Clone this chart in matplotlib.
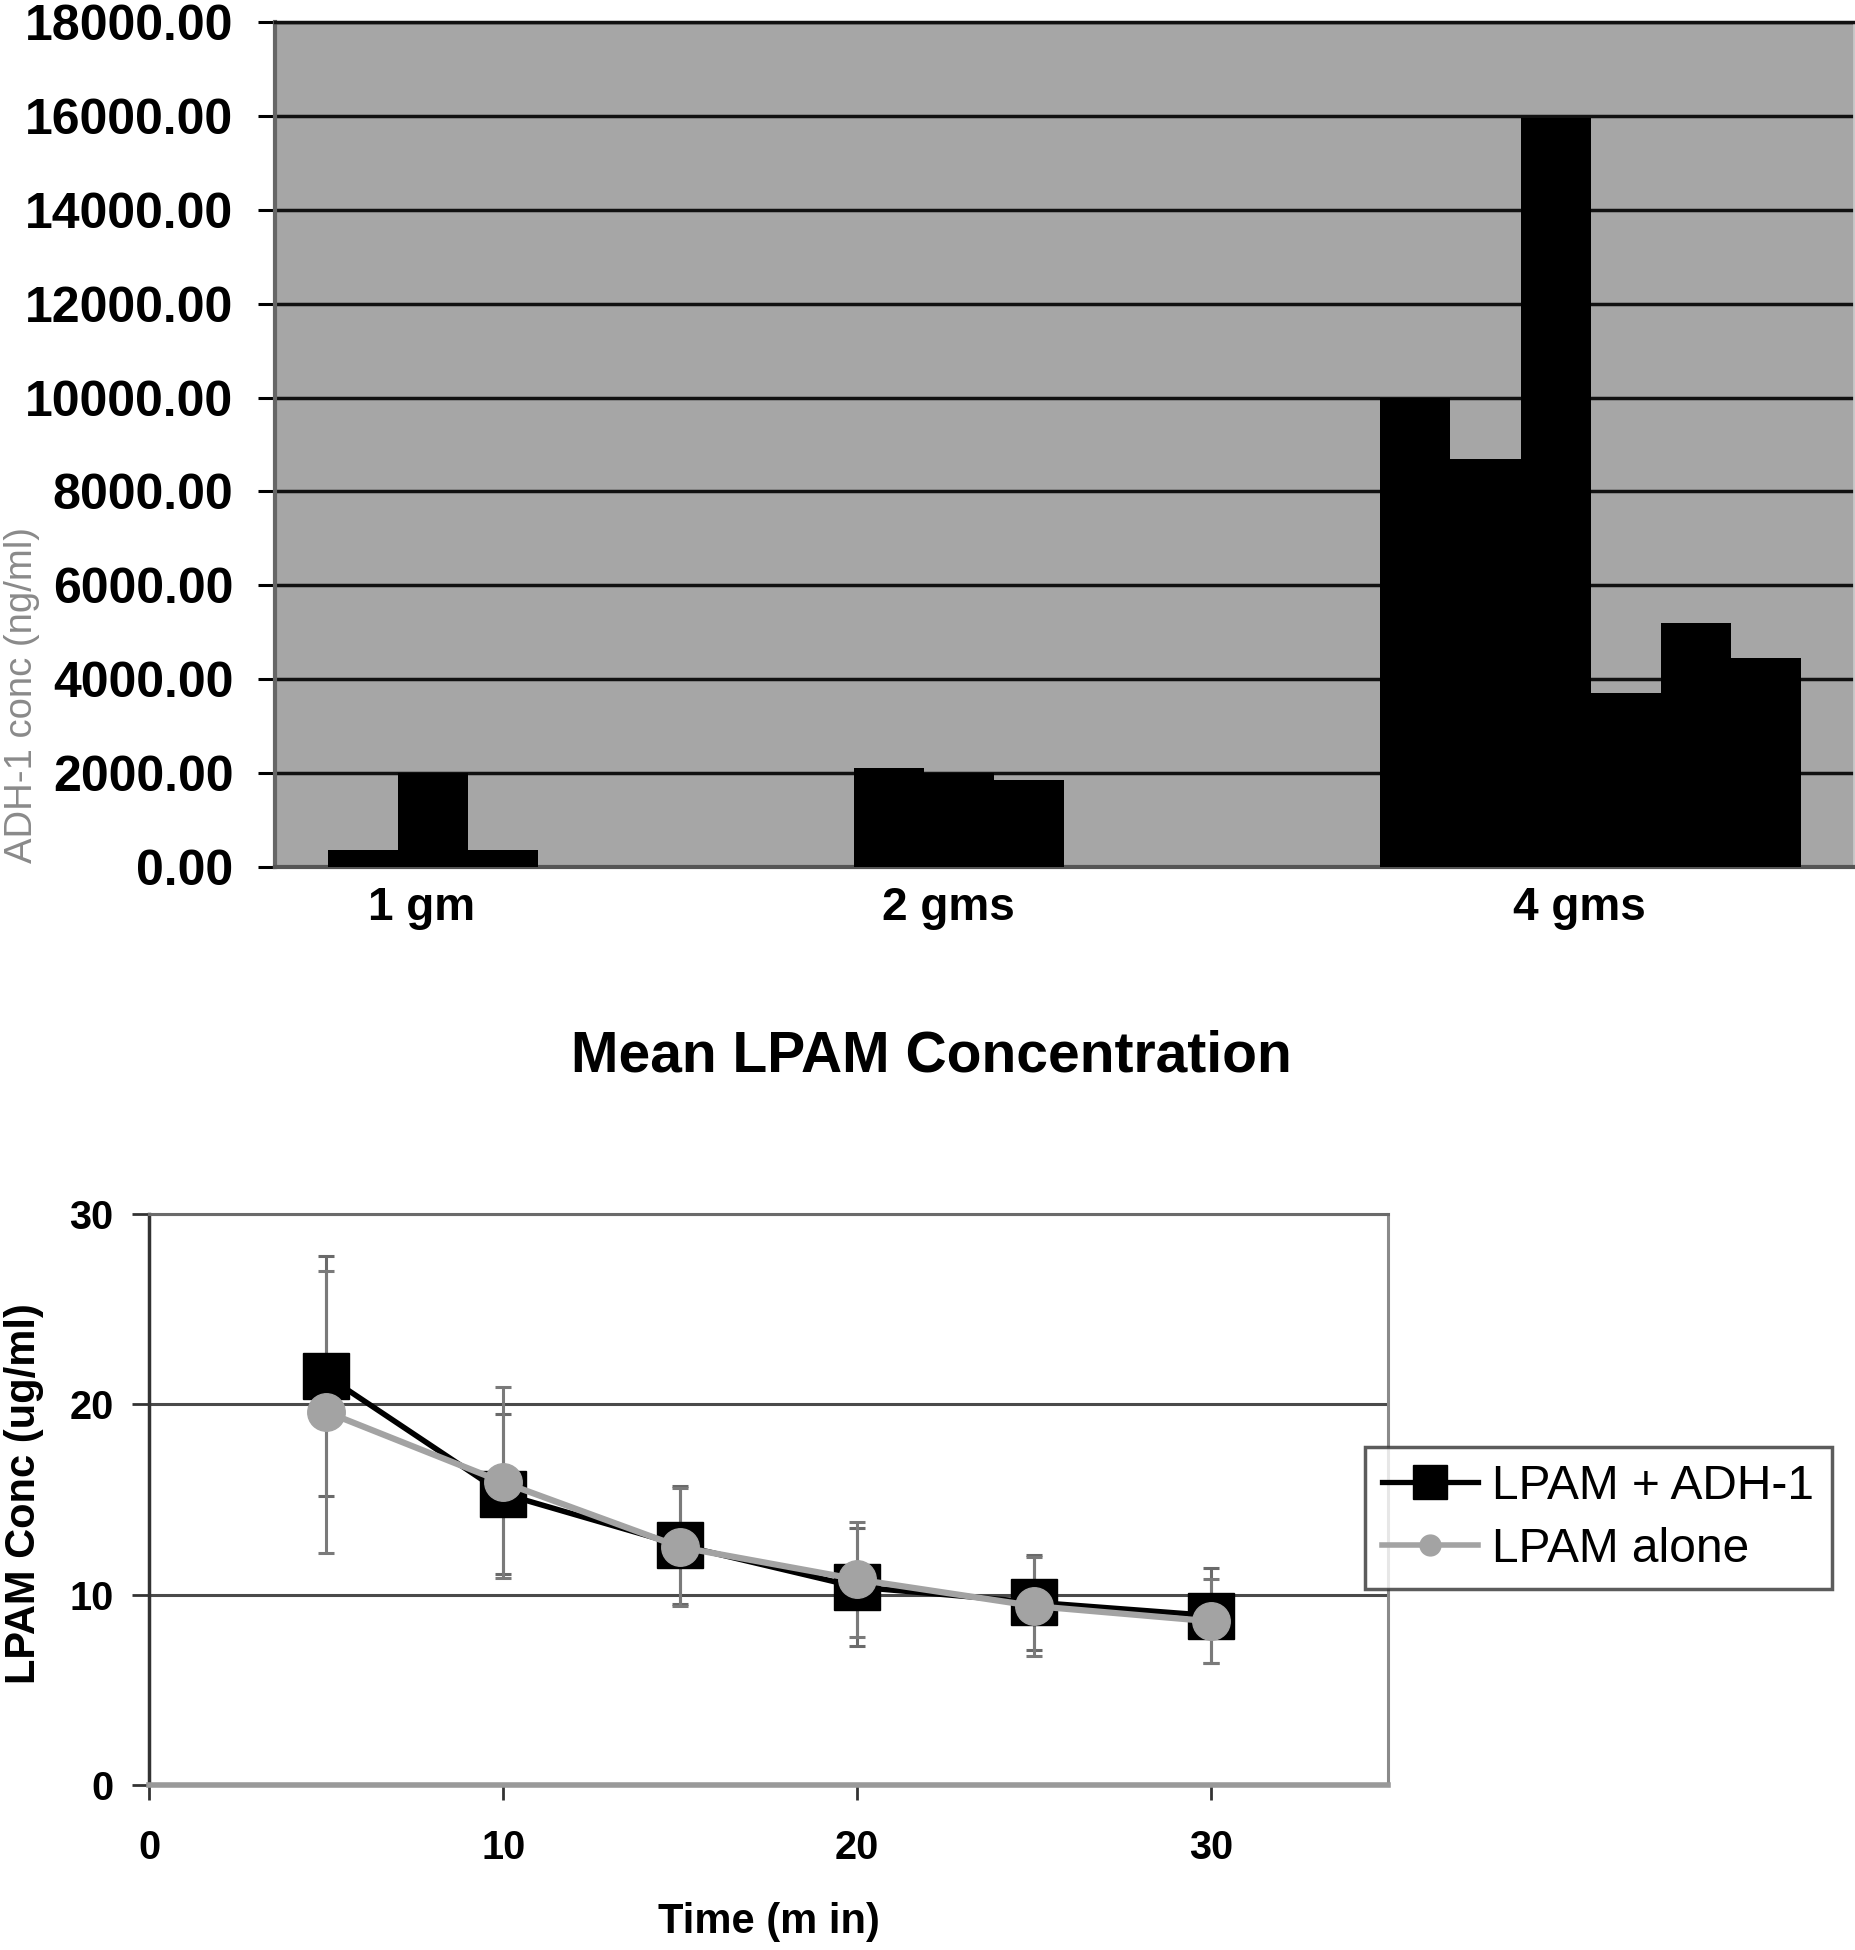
import matplotlib
matplotlib.use("Agg")
import matplotlib.pyplot as plt
from matplotlib.lines import Line2D
import matplotlib.transforms as mtransforms
import numpy as np

plt.rcParams['font.family'] = ['Liberation Sans', 'DejaVu Sans']

# ---------------- data: top bar chart ----------------
dose_labels = ["1 gm", "2 gms", "4 gms"]
adh_1gm = [370, 2000, 370]
adh_2gms = [2100, 2000, 1850]
adh_4gms = [10000, 8700, 15950, 3700, 5200, 4450]
adh_yticks = [0, 2000, 4000, 6000, 8000, 10000, 12000, 14000, 16000, 18000]

# ---------------- data: bottom line chart ----------------
time_min = [5, 10, 15, 20, 25, 30]
lpam_adh_mean = [21.5, 15.3, 12.6, 10.4, 9.6, 8.9]
lpam_adh_err = [6.3, 4.2, 3.1, 3.1, 2.5, 2.5]
lpam_alone_mean = [19.6, 15.9, 12.5, 10.8, 9.4, 8.6]
lpam_alone_err = [7.4, 5.0, 3.1, 3.0, 2.6, 2.2]
series_names = ["LPAM + ADH-1", "LPAM alone"]
x_ticks = [0, 10, 20, 30]
y_ticks = [0, 10, 20, 30]

W, H = 1856, 1950
fig = plt.figure(figsize=(W / 100, H / 100), dpi=100)

# ================= top chart =================
ax1 = fig.add_axes([275 / W, 1 - 867 / H, (1854 - 275) / W, (867 - 22) / H])
ax1.set_facecolor('#a6a6a6')
groups = [adh_1gm, adh_2gms, adh_4gms]
nslots = 6
bw = 1 / (nslots + 1.5)
tick_pos = []
for c, vals in enumerate(groups):
    xs = [c + (i - (nslots - 1) / 2) * bw for i in range(len(vals))]
    ax1.bar(xs, vals, width=bw, color='black', edgecolor='none', zorder=3)
    tick_pos.append(np.mean(xs))
ax1.set_xlim(-0.5, len(groups) - 0.5)
ax1.set_ylim(0, 18000)
ax1.set_yticks(adh_yticks)
ax1.set_yticklabels([f"{v:.2f}" for v in adh_yticks])
ax1.set_xticks(tick_pos)
ax1.set_xticklabels(dose_labels)
ax1.grid(axis='y', color='#111111', linewidth=2.5, zorder=1)
ax1.set_axisbelow(True)
ax1.tick_params(axis='y', length=12, width=2.2, pad=18, labelsize=36, direction='out', color='black')
ax1.tick_params(axis='x', length=0, pad=14, labelsize=33)
for lab in ax1.get_yticklabels() + ax1.get_xticklabels():
    lab.set_fontweight('bold')
shift = mtransforms.ScaledTranslation(-0.11, 0, fig.dpi_scale_trans)
for lab in ax1.get_xticklabels():
    lab.set_transform(lab.get_transform() + shift)
ax1.spines['top'].set_color('#111111')
ax1.spines['top'].set_linewidth(2.5)
ax1.spines['right'].set_color('#c8c8c8')
ax1.spines['right'].set_linewidth(2)
ax1.spines['left'].set_color('#666666')
ax1.spines['left'].set_linewidth(3)
ax1.spines['bottom'].set_color('#555555')
ax1.spines['bottom'].set_linewidth(3)
ax1.set_ylabel("ADH-1 conc (ng/ml)", fontsize=27.5, color='#8a8a8a')
ax1.yaxis.set_label_coords(-0.1488, 0.204)

# title between charts
fig.text(931 / W, 1 - 1057 / H, "Mean LPAM Concentration", fontsize=41,
         fontweight='bold', ha='center', va='center')

# ================= bottom chart =================
ax2 = fig.add_axes([149.5 / W, 1 - 1785 / H, (1388 - 149.5) / W, (1785 - 1214) / H])
ax2.set_facecolor('white')
ax2.errorbar(time_min, lpam_adh_mean, yerr=lpam_adh_err, fmt='none',
             ecolor='#6a6a6a', elinewidth=2.2, capsize=6, capthick=2.2, zorder=3)
ax2.errorbar(time_min, lpam_alone_mean, yerr=lpam_alone_err, fmt='none',
             ecolor='#7a7a7a', elinewidth=2.2, capsize=6, capthick=2.2, zorder=3)
ax2.plot(time_min, lpam_adh_mean, color='black', linewidth=4, marker='s',
         markersize=33, markerfacecolor='black', markeredgecolor='black', zorder=4)
ax2.plot(time_min, lpam_alone_mean, color='#a3a3a3', linewidth=4.5, marker='o',
         markersize=27, markerfacecolor='#a3a3a3', markeredgecolor='#a3a3a3', zorder=5)
ax2.set_xlim(0, 35)
ax2.set_ylim(0, 30)
ax2.set_xticks(x_ticks)
ax2.set_yticks(y_ticks)
ax2.grid(axis='y', color='#4a4a4a', linewidth=2.2, zorder=1)
ax2.set_axisbelow(True)
ax2.tick_params(axis='y', length=12, width=2, pad=14, labelsize=28.5, color='#333333')
ax2.tick_params(axis='x', length=11, width=2, pad=21, labelsize=28.5, color='#333333')
for lab in ax2.get_yticklabels() + ax2.get_xticklabels():
    lab.set_fontweight('bold')
ax2.spines['top'].set_color('#6a6a6a')
ax2.spines['top'].set_linewidth(2.2)
ax2.spines['right'].set_color('#8a8a8a')
ax2.spines['right'].set_linewidth(2.2)
ax2.spines['left'].set_color('#333333')
ax2.spines['left'].set_linewidth(2.5)
ax2.spines['bottom'].set_color('#999999')
ax2.spines['bottom'].set_linewidth(4)
ax2.set_ylabel("LPAM Conc (ug/ml)", fontsize=30, fontweight='bold')
ax2.yaxis.set_label_coords(-0.0852, 0.51)
ax2.set_xlabel("Time (m in)", fontsize=30, fontweight='bold')
ax2.xaxis.set_label_coords(0.5, -0.205)

handles = [
    Line2D([], [], color='black', linewidth=3.8, marker='s', markersize=24,
           markerfacecolor='black', markeredgecolor='black'),
    Line2D([], [], color='#a3a3a3', linewidth=4, marker='o', markersize=15,
           markerfacecolor='#a3a3a3', markeredgecolor='#a3a3a3'),
]
leg = fig.legend(handles, series_names, loc='upper left',
                 bbox_to_anchor=(1365 / W, 1 - 1447 / H), borderaxespad=0,
                 fontsize=34.5, frameon=True, fancybox=False, handlelength=2.0,
                 handletextpad=0.3, labelspacing=0.36, borderpad=0.36)
leg.get_frame().set_edgecolor('#333333')
leg.get_frame().set_linewidth(2.5)

fig.savefig("out.png", dpi=100)
